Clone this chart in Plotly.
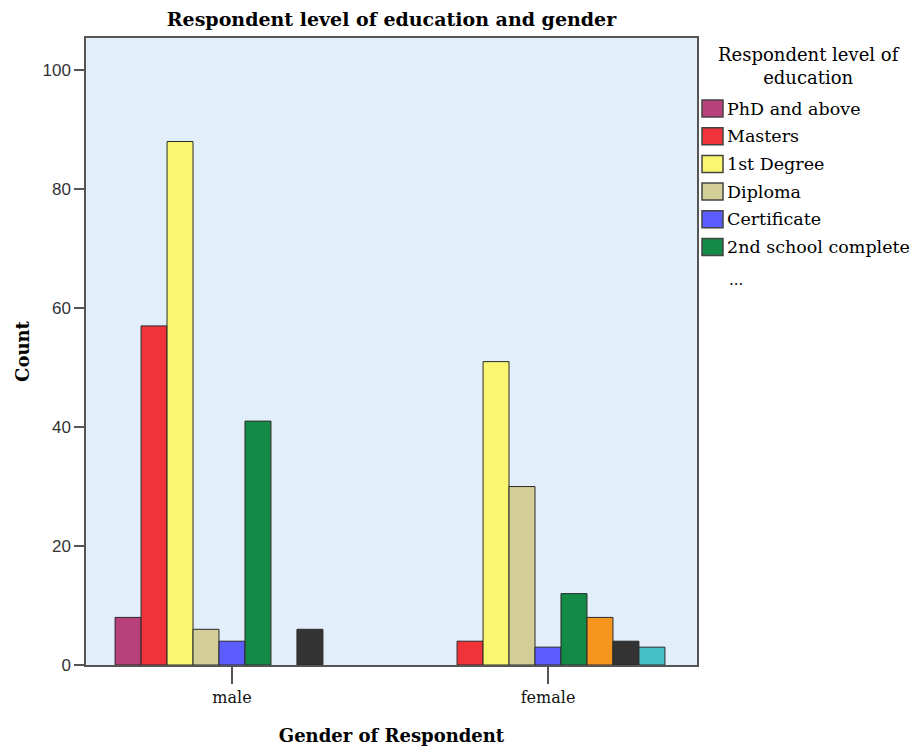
import plotly.graph_objects as go

genders = ["male", "female"]
levels = ["PhD and above", "Masters", "1st Degree", "Diploma", "Certificate",
          "2nd school complete", "Other A", "Other B", "Other C"]
# None = no bar shown for that group
male_counts = [8, 57, 88, 6, 4, 41, None, 6, None]
female_counts = [None, 4, 51, 30, 3, 12, 8, 4, 3]
colors = ["#b8417c", "#ef3338", "#fbf66f", "#d3cd97", "#5b5cfe",
          "#138b47", "#f7961f", "#333333", "#45c0c6"]
legend_count = 6
legend_title = "Respondent level of<br>education"

SERIF = "DejaVu Serif, serif"
SANS = "Liberation Sans, Arial, sans-serif"

# page has an 8px body margin; figure sized so it fills the 918x747 window
W, H = 910, 739
PL, PR, PT, PB = 78, 221, 30, 82
PW, PH = W - PL - PR, H - PT - PB


def px(xp):  # window x pixel -> paper x
    return (xp - 8 - PL) / PW


def py(yp):  # window y pixel -> paper y
    return (H - PB - (yp - 8)) / PH


fig = go.Figure()
for i, lvl in enumerate(levels):
    fig.add_trace(go.Bar(
        x=[0, 1], y=[male_counts[i], female_counts[i]], name=lvl,
        marker=dict(color=colors[i], line=dict(color="#2a2a2a", width=1)),
        showlegend=False,
    ))

fig.update_layout(
    width=W, height=H,
    margin=dict(l=PL, r=PR, t=PT, b=PB, autoexpand=False),
    paper_bgcolor="white", plot_bgcolor="#e2eefa",
    barmode="group", bargap=0.26, bargroupgap=0,
    title=dict(text="<b>Respondent level of education and gender</b>",
               x=0.5, xref="paper", xanchor="center",
               y=1 - 11 / H, yref="container", yanchor="middle",
               font=dict(family=SERIF, size=19, color="black")),
    xaxis=dict(range=[-0.462, 1.4715], tickvals=[0, 1], ticktext=genders,
               ticks="outside", ticklen=17, tickcolor="#555", tickwidth=1.5,
               showgrid=False, zeroline=False, showline=True, linecolor="#555",
               linewidth=1.5, mirror=True,
               tickfont=dict(family=SERIF, size=16, color="#111"),
               title=dict(text="<b>Gender of Respondent</b>", standoff=23,
                          font=dict(family=SERIF, size=18, color="black"))),
    yaxis=dict(range=[0, 105.4], tickvals=[0, 20, 40, 60, 80, 100],
               ticks="outside", ticklen=10, tickcolor="#555", tickwidth=1.5,
               showgrid=False, zeroline=False, showline=True, linecolor="#555",
               linewidth=1.5, mirror=True,
               tickfont=dict(family=SANS, size=17, color="#333"),
               title=dict(text="<b>Count</b>", standoff=8,
                          font=dict(family=SERIF, size=18, color="black"))),
)

# Legend drawn as swatches + labels, built from the series lists
fig.add_annotation(text=legend_title, xref="paper", yref="paper",
                   x=px(809), y=py(66), xanchor="center",
                   yanchor="middle", showarrow=False, align="center",
                   font=dict(family=SERIF, size=18, color="black"))
for i in range(legend_count):
    top = 100 + i * 27.7
    y0, y1 = py(top + 17), py(top)
    fig.add_shape(type="rect", xref="paper", yref="paper",
                  x0=px(702), x1=px(723), y0=y0, y1=y1,
                  fillcolor=colors[i], line=dict(color="#444", width=1.5))
    fig.add_annotation(text=levels[i], xref="paper", yref="paper",
                       x=px(725), y=(y0 + y1) / 2, xanchor="left",
                       yanchor="middle", showarrow=False,
                       font=dict(family=SERIF, size=17.5, color="black"))
fig.add_annotation(text="...", xref="paper", yref="paper",
                   x=px(727), y=py(280), xanchor="left",
                   yanchor="middle", showarrow=False,
                   font=dict(family=SERIF, size=15, color="black"))

fig.write_html("out.html")
